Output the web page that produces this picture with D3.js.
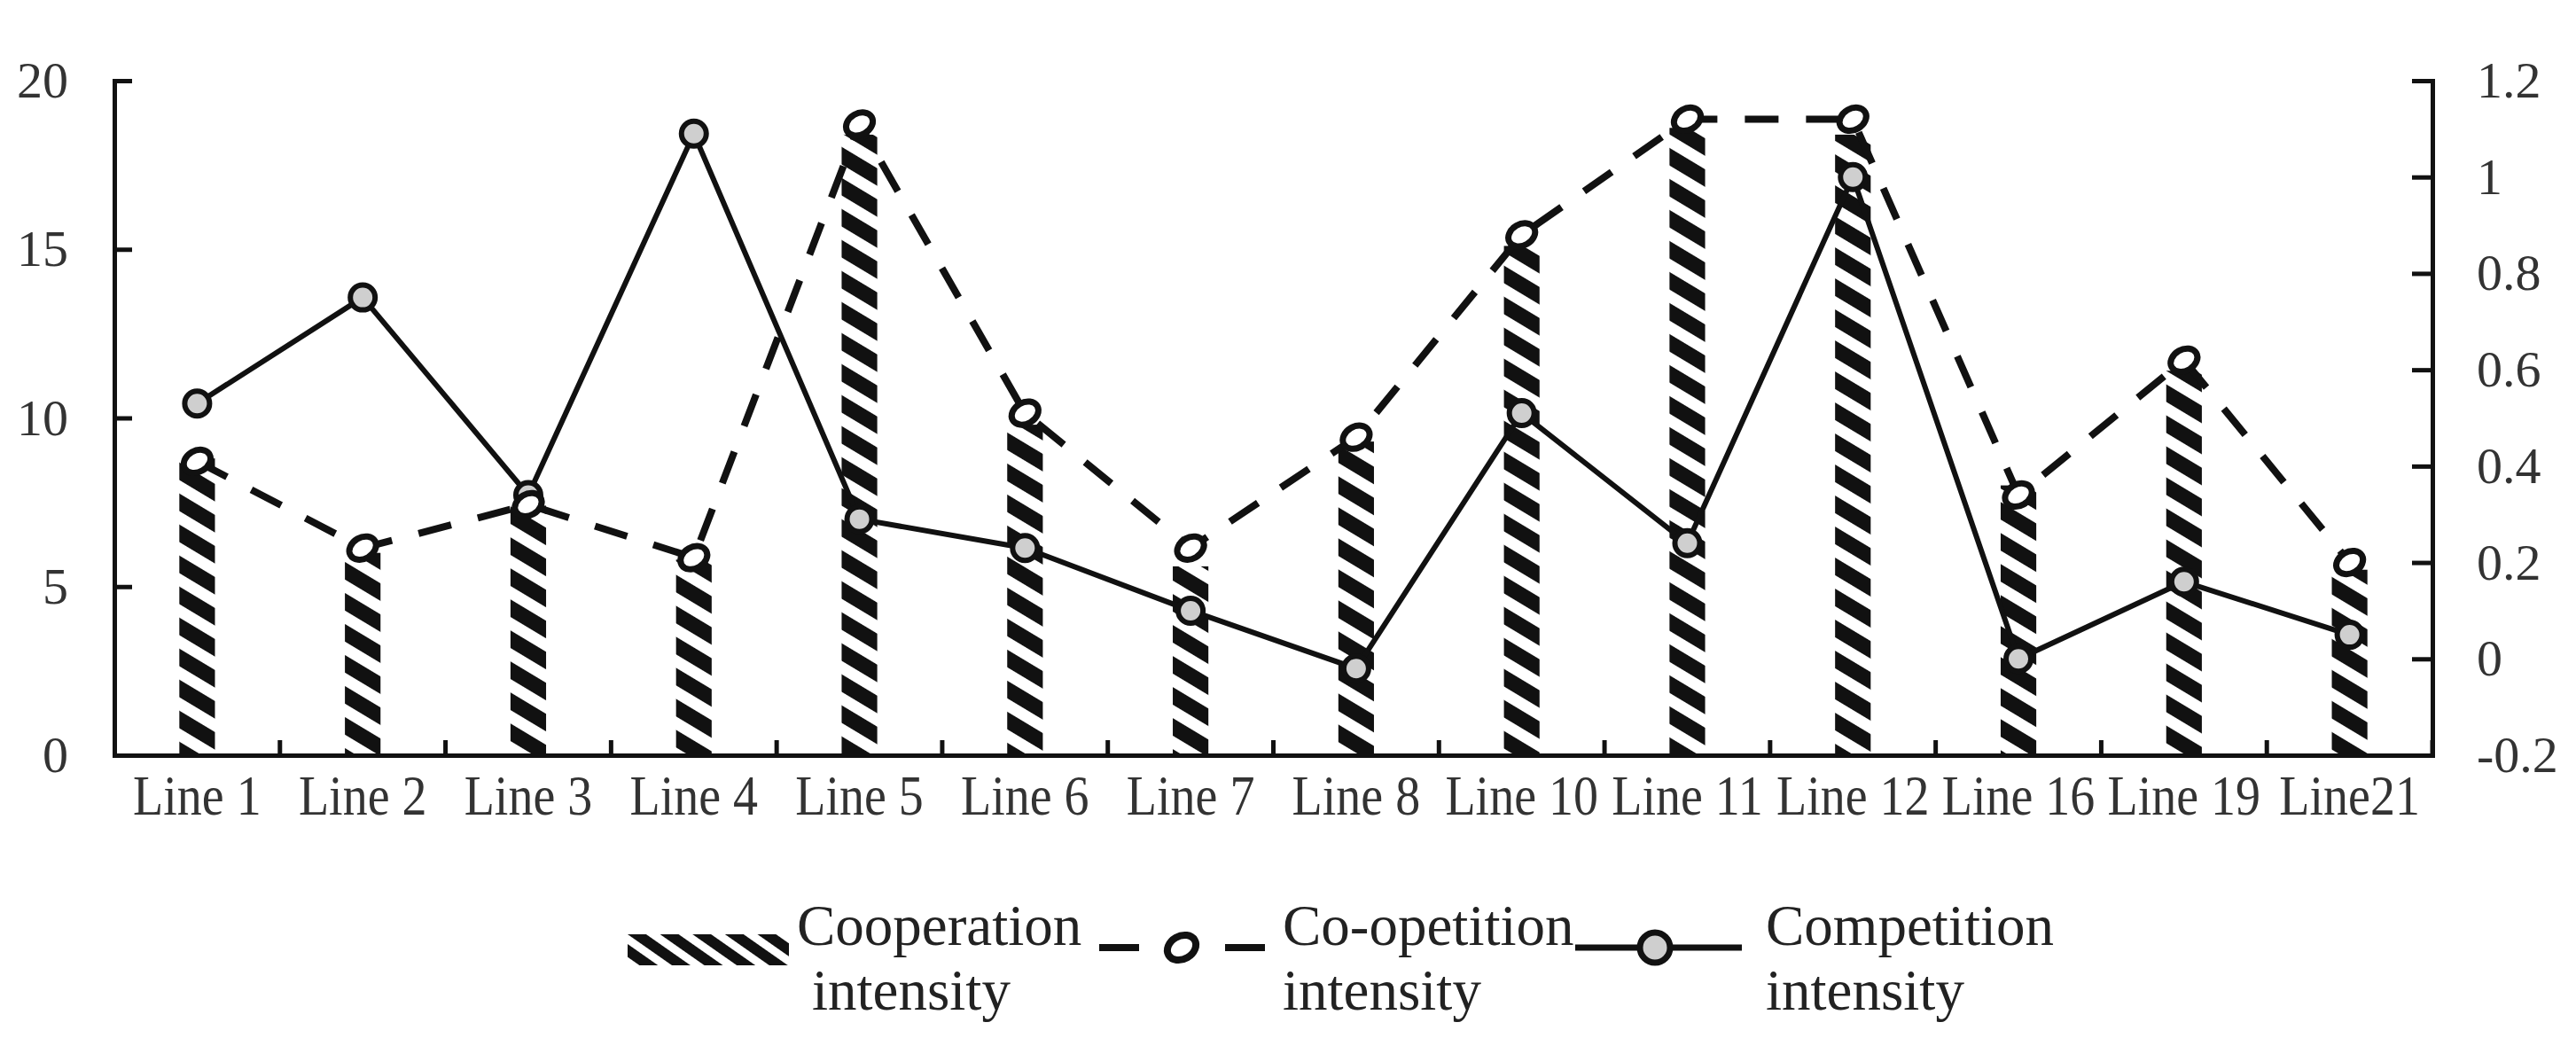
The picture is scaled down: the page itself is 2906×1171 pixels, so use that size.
<!DOCTYPE html>
<html><head><meta charset="utf-8">
<script src="https://cdn.jsdelivr.net/npm/d3@7"></script>
<style>body{margin:0;background:#fff}</style>
</head><body>
<svg id="chart" width="2906" height="1171"></svg>
<script>
const categories = ["Line 1","Line 2","Line 3","Line 4","Line 5","Line 6","Line 7","Line 8","Line 10","Line 11","Line 12","Line 16","Line 19","Line21"];
const cooperation = [8.8, 6.0, 7.4, 5.8, 18.4, 9.8, 5.6, 9.3, 15.1, 18.6, 18.4, 8.0, 11.4, 5.5];
const coopetition = [0.41, 0.23, 0.32, 0.21, 1.11, 0.51, 0.23, 0.46, 0.88, 1.12, 1.12, 0.34, 0.62, 0.20];
const competition = [0.53, 0.75, 0.34, 1.09, 0.29, 0.23, 0.10, -0.02, 0.51, 0.24, 1.00, 0.00, 0.16, 0.05];
const leftTicks = [0, 5, 10, 15, 20];
const rightTicks = [-0.2, 0, 0.2, 0.4, 0.6, 0.8, 1, 1.2];
const rightTickLabels = ["-0.2", "0", "0.2", "0.4", "0.6", "0.8", "1", "1.2"];
const legendLines = [["Cooperation", "intensity"], ["Co-opetition", "intensity"], ["Competition", "intensity"]];

const m = {left: 129, right: 2744, top: 91, bottom: 852};
const ink = "#111";
const font = "'Liberation Serif', 'Times New Roman', serif";
const svg = d3.select("#chart");

const x = d3.scaleBand().domain(categories).range([m.left, m.right]).padding(0);
const yL = d3.scaleLinear().domain([0, 20]).range([m.bottom, m.top]);
const yR = d3.scaleLinear().domain([-0.2, 1.2]).range([m.bottom, m.top]);
const bw = x.bandwidth();
const cx = c => x(c) + bw / 2;

const defs = svg.append("defs");
const pat = defs.append("pattern").attr("id", "hatch").attr("patternUnits", "userSpaceOnUse")
  .attr("width", 30).attr("height", 30).attr("patternTransform", "rotate(-59)");
pat.append("rect").attr("width", 17).attr("height", 30).attr("fill", ink);
const patL = defs.append("pattern").attr("id", "hatchL").attr("patternUnits", "userSpaceOnUse")
  .attr("width", 21).attr("height", 21).attr("patternTransform", "translate(708,1054) rotate(-55)");
patL.append("rect").attr("width", 12).attr("height", 21).attr("fill", ink);

// bars
const barW = bw * 0.215;
svg.append("g").selectAll("rect").data(categories).join("rect")
  .attr("x", c => cx(c) - barW / 2)
  .attr("y", (c, i) => yL(cooperation[i]))
  .attr("width", barW)
  .attr("height", (c, i) => yL(0) - yL(cooperation[i]))
  .attr("fill", "url(#hatch)");

// axes
const axL = svg.append("g").attr("transform", `translate(${m.left},0)`)
  .call(d3.axisLeft(yL).tickValues(leftTicks).tickSize(-20).tickSizeOuter(0).tickPadding(52).tickFormat(d3.format("d")));
const axR = svg.append("g").attr("transform", `translate(${m.right},0)`)
  .call(d3.axisRight(yR).tickValues(rightTicks).tickSize(-23).tickSizeOuter(0).tickPadding(50).tickFormat((d, i) => rightTickLabels[i]));
[axL, axR].forEach(a => {
  a.select(".domain").attr("stroke", ink).attr("stroke-width", 5).attr("stroke-linecap", "square");
  a.selectAll(".tick line").attr("stroke", ink).attr("stroke-width", 5);
  a.selectAll(".tick text").attr("font-family", font).attr("font-size", 58).attr("fill", "#333");
});
axL.select(".tick:last-of-type").raise();

// bottom axis
const axB = svg.append("g").attr("transform", `translate(0,${m.bottom})`)
  .call(d3.axisBottom(x).tickValues([]).tickSizeOuter(0));
axB.select(".domain").attr("stroke", ink).attr("stroke-width", 5).attr("stroke-linecap", "square");
const bounds = categories.map(c => x(c)).concat([x.range()[1]]);
svg.append("g").selectAll("line").data(bounds.slice(1)).join("line")
  .attr("x1", d => d).attr("x2", d => d)
  .attr("y1", m.bottom).attr("y2", m.bottom - 17)
  .attr("stroke", ink).attr("stroke-width", 5);
svg.append("g").selectAll("text").data(categories).join("text")
  .attr("transform", c => `translate(${cx(c)},919) scale(1,1.12)`)
  .attr("text-anchor", "middle")
  .attr("font-family", font).attr("font-size", 56).attr("fill", "#333")
  .text(c => c);

// lines
const lineGen = vals => d3.line().x((v, i) => cx(categories[i])).y(v => yR(v))(vals);
svg.append("path").attr("d", lineGen(competition)).attr("fill", "none")
  .attr("stroke", ink).attr("stroke-width", 6).attr("stroke-linejoin", "round");
svg.append("path").attr("d", lineGen(coopetition)).attr("fill", "none")
  .attr("stroke", ink).attr("stroke-width", 8).attr("stroke-dasharray", "38 31");

// markers
svg.append("g").selectAll("circle").data(competition).join("circle")
  .attr("cx", (v, i) => cx(categories[i])).attr("cy", v => yR(v)).attr("r", 14)
  .attr("fill", "#cfcfcf").attr("stroke", ink).attr("stroke-width", 6);
svg.append("g").selectAll("ellipse").data(coopetition).join("ellipse")
  .attr("transform", (v, i) => `translate(${cx(categories[i])},${yR(v)}) rotate(-30)`)
  .attr("rx", 16).attr("ry", 12)
  .attr("fill", "#fff").attr("stroke", ink).attr("stroke-width", 7);

// legend
const lg = svg.append("g");
lg.append("rect").attr("x", 708).attr("y", 1054).attr("width", 182).attr("height", 35).attr("fill", "url(#hatchL)");
lg.append("line").attr("x1", 1240).attr("x2", 1427).attr("y1", 1069).attr("y2", 1069)
  .attr("stroke", ink).attr("stroke-width", 8).attr("stroke-dasharray", "45 97 45");
lg.append("ellipse").attr("transform", "translate(1333,1069) rotate(-30)").attr("rx", 17).attr("ry", 13)
  .attr("fill", "#fff").attr("stroke", ink).attr("stroke-width", 8);
lg.append("line").attr("x1", 1777).attr("x2", 1965).attr("y1", 1069).attr("y2", 1069)
  .attr("stroke", ink).attr("stroke-width", 7);
lg.append("circle").attr("cx", 1867).attr("cy", 1069).attr("r", 17)
  .attr("fill", "#cfcfcf").attr("stroke", ink).attr("stroke-width", 7);
const legX = [[899, 916], [1447, 1447], [1992, 1992]];
legendLines.forEach((pair, k) => {
  pair.forEach((t, j) => {
    lg.append("text").attr("x", legX[k][j]).attr("y", j === 0 ? 1066 : 1139)
      .attr("font-family", font).attr("font-size", 65).attr("fill", "#222").text(t);
  });
});
</script>
</body></html>
